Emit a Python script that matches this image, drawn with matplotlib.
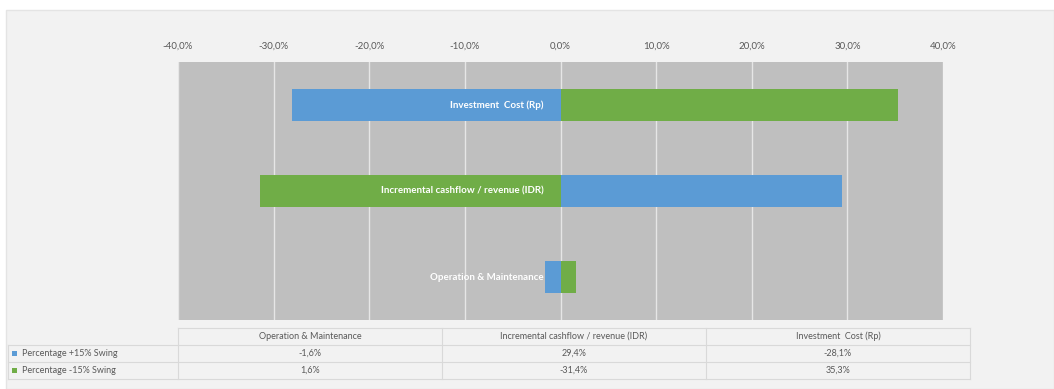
import numpy as np
import matplotlib.pyplot as plt
from matplotlib.patches import Rectangle

plt.rcParams['font.family'] = ['Lato', 'DejaVu Sans']

# data (bottom to top in the chart, left to right in the table)
categories = ['Operation & Maintenance', 'Incremental cashflow / revenue (IDR)', 'Investment  Cost (Rp)']
swing_plus = [-1.6, 29.4, -28.1]    # Percentage +15% Swing
swing_minus = [1.6, -31.4, 35.3]    # Percentage -15% Swing
series_names = ['Percentage +15% Swing', 'Percentage -15% Swing']
ticks = [-40, -30, -20, -10, 0, 10, 20, 30, 40]

blue = '#5b9bd5'
green = '#70ad47'
txt = '#595959'
W, H = 1054, 389


def pct(v):
    return ('%.1f%%' % v).replace('.', ',')


fig = plt.figure(figsize=(W / 100, H / 100), dpi=100, facecolor='white')

# chart area background
bg = fig.add_axes([0, 0, 1, 1], zorder=0)
bg.set_xlim(0, W)
bg.set_ylim(H, 0)
bg.axis('off')
bg.add_patch(Rectangle((6, 10), W - 6, H - 10, facecolor='#f2f2f2', edgecolor='#e4e4e4', lw=1))

# main plot
ax = fig.add_axes([178 / W, 1 - 320 / H, (943 - 178) / W, (320 - 62) / H], zorder=1)
ax.set_facecolor('#bfbfbf')
y = np.arange(len(categories))
ax.barh(y, swing_plus, height=0.38, color=blue, zorder=3)
ax.barh(y, swing_minus, height=0.38, color=green, zorder=3)
ax.set_xlim(-40, 40)
ax.set_ylim(-0.5, len(categories) - 0.5)
ax.set_xticks(ticks)
ax.set_xticklabels([pct(t) for t in ticks], fontsize=7, color=txt)
ax.xaxis.tick_top()
ax.tick_params(axis='x', length=0, pad=8)
ax.set_yticks([])
ax.grid(axis='x', color='#e6e6e6', lw=1, zorder=1)
for s in ax.spines.values():
    s.set_visible(False)
for yi, c in zip(y, categories):
    ax.text(-1.8, yi, c, ha='right', va='center', color='white', fontsize=7,
            fontweight='bold', zorder=4)

# data table under the chart
ov = fig.add_axes([0, 0, 1, 1], zorder=2)
ov.set_xlim(0, W)
ov.set_ylim(H, 0)
ov.axis('off')
cols = [178, 442, 706, 970]
rows = [328, 345, 362, 379]
lc = '#d9d9d9'
ov.plot([cols[0], cols[-1]], [rows[0], rows[0]], color=lc, lw=0.8)
for r in rows[1:]:
    ov.plot([8, cols[-1]], [r, r], color=lc, lw=0.8)
for c in cols:
    ov.plot([c, c], [rows[0], rows[-1]], color=lc, lw=0.8)
ov.plot([8, 8], [rows[1], rows[-1]], color=lc, lw=0.8)

for i, c in enumerate(categories):
    xc = (cols[i] + cols[i + 1]) / 2
    ov.text(xc, (rows[0] + rows[1]) / 2, c, ha='center', va='center', fontsize=6.5, color=txt)
    ov.text(xc, (rows[1] + rows[2]) / 2, pct(swing_plus[i]), ha='center', va='center', fontsize=6.5, color=txt)
    ov.text(xc, (rows[2] + rows[3]) / 2, pct(swing_minus[i]), ha='center', va='center', fontsize=6.5, color=txt)

for j, (name, col) in enumerate(zip(series_names, [blue, green])):
    yc = (rows[j + 1] + rows[j + 2]) / 2
    ov.add_patch(Rectangle((12, yc - 2.5), 5, 5, facecolor=col, edgecolor='none'))
    ov.text(22, yc, name, ha='left', va='center', fontsize=6.5, color=txt)

fig.savefig('out.png', dpi=100, facecolor=fig.get_facecolor())
